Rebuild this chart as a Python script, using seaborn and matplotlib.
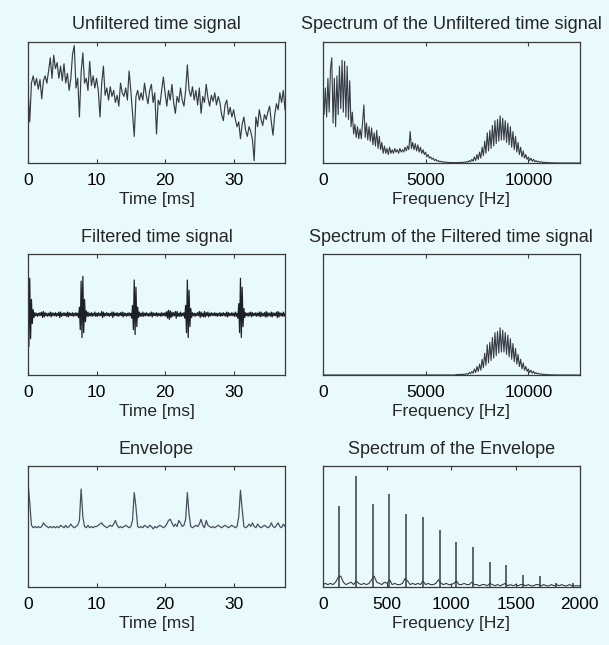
import numpy as np
import seaborn as sns
import matplotlib.pyplot as plt

# sample spacing of the values below
t_step = 0.25      # ms, unfiltered signal and envelope
t_fine = 0.125     # ms, filtered signal
f_step = 62.5      # Hz, spectra
ef_step = 20       # Hz, envelope spectrum floor

# unfiltered time signal (fraction of axis height), t = 0 .. 37.5 ms
unfilt = [0.62, 0.34, 0.66, 0.72, 0.64, 0.70, 0.61, 0.69, 0.53, 0.68,
          0.72, 0.66, 0.76, 0.87, 0.70, 0.89, 0.78, 0.83, 0.70, 0.80,
          0.68, 0.82, 0.66, 0.74, 0.60, 0.70, 0.90, 0.97, 0.62, 0.70,
          0.38, 0.75, 0.91, 0.66, 0.70, 0.60, 0.84, 0.64, 0.72, 0.62,
          0.70, 0.60, 0.38, 0.66, 0.80, 0.56, 0.62, 0.52, 0.63, 0.55,
          0.60, 0.50, 0.56, 0.47, 0.66, 0.58, 0.55, 0.62, 0.52, 0.76,
          0.60, 0.41, 0.22, 0.55, 0.60, 0.52, 0.58, 0.52, 0.66, 0.56,
          0.49, 0.60, 0.65, 0.50, 0.58, 0.24, 0.52, 0.48, 0.60, 0.71,
          0.58, 0.47, 0.60, 0.52, 0.65, 0.50, 0.41, 0.55, 0.50, 0.62,
          0.52, 0.47, 0.60, 0.81, 0.60, 0.55, 0.63, 0.52, 0.60, 0.48,
          0.62, 0.41, 0.55, 0.50, 0.65, 0.54, 0.47, 0.56, 0.51, 0.58,
          0.48, 0.55, 0.50, 0.40, 0.35, 0.48, 0.52, 0.40, 0.46, 0.38,
          0.44, 0.36, 0.30, 0.34, 0.20, 0.32, 0.38, 0.27, 0.22, 0.30,
          0.26, 0.19, 0.02, 0.38, 0.30, 0.44, 0.36, 0.31, 0.40, 0.36,
          0.42, 0.47, 0.34, 0.23, 0.40, 0.49, 0.44, 0.58, 0.50, 0.60,
          0.44]

# filtered time signal, t = 0 .. 37.5 ms, one row per ms
filt = [0.35, -0.53, 0.60, -0.40, 0.25, -0.15, 0.08, -0.05,
        0.03, -0.02, 0.02, -0.03, 0.02, -0.02, 0.03, -0.02,
        0.04, -0.05, 0.05, -0.04, 0.03, -0.02, 0.02, -0.03,
        0.02, -0.02, 0.04, -0.04, 0.03, -0.02, 0.02, -0.02,
        0.03, -0.03, 0.02, -0.02, 0.04, -0.05, 0.04, -0.03,
        0.02, -0.02, 0.03, -0.02, 0.02, -0.03, 0.04, -0.04,
        0.03, -0.02, 0.02, -0.02, 0.03, -0.03, 0.02, -0.02,
        0.03, -0.02, 0.02, -0.05, 0.12, -0.25, 0.55, -0.38,
        0.63, -0.30, 0.25, -0.12, 0.06, -0.03, 0.04, -0.03,
        0.02, -0.02, 0.03, -0.03, 0.02, -0.02, 0.04, -0.03,
        0.02, -0.03, 0.03, -0.02, 0.02, -0.02, 0.05, -0.05,
        0.04, -0.03, 0.02, -0.02, 0.03, -0.02, 0.02, -0.03,
        0.02, -0.02, 0.04, -0.05, 0.04, -0.02, 0.02, -0.02,
        0.03, -0.03, 0.02, -0.02, 0.03, -0.02, 0.04, -0.04,
        0.03, -0.02, 0.02, -0.03, 0.02, -0.02, 0.03, -0.02,
        0.02, -0.06, 0.15, -0.25, 0.57, -0.33, 0.45, -0.20,
        0.12, -0.05, 0.04, -0.03, 0.02, -0.03, 0.04, -0.03,
        0.02, -0.02, 0.03, -0.02, 0.02, -0.03, 0.02, -0.02,
        0.04, -0.04, 0.03, -0.02, 0.02, -0.02, 0.03, -0.03,
        0.02, -0.02, 0.02, -0.03, 0.03, -0.02, 0.02, -0.02,
        0.03, -0.03, 0.05, -0.06, 0.07, -0.08, 0.06, -0.05,
        0.04, -0.03, 0.03, -0.02, 0.05, -0.06, 0.05, -0.03,
        0.02, -0.03, 0.04, -0.03, 0.02, -0.02, 0.03, -0.06,
        0.15, -0.30, 0.57, -0.38, 0.40, -0.20, 0.10, -0.05,
        0.03, -0.02, 0.02, -0.03, 0.02, -0.02, 0.03, -0.02,
        0.05, -0.05, 0.04, -0.03, 0.02, -0.04, 0.05, -0.04,
        0.03, -0.02, 0.04, -0.04, 0.02, -0.02, 0.03, -0.02,
        0.02, -0.02, 0.03, -0.02, 0.02, -0.03, 0.02, -0.02,
        0.03, -0.03, 0.02, -0.02, 0.03, -0.02, 0.02, -0.03,
        0.04, -0.04, 0.03, -0.02, 0.02, -0.02, 0.03, -0.02,
        0.02, -0.03, 0.04, -0.03, 0.02, -0.06, 0.18, -0.30,
        0.60, -0.38, 0.45, -0.20, 0.10, -0.05, 0.03, -0.02,
        0.02, -0.03, 0.03, -0.02, 0.04, -0.04, 0.03, -0.02,
        0.02, -0.02, 0.03, -0.03, 0.02, -0.02, 0.04, -0.04,
        0.04, -0.03, 0.02, -0.02, 0.03, -0.04, 0.05, -0.04,
        0.03, -0.02, 0.02, -0.03, 0.04, -0.04, 0.03, -0.02,
        0.02, -0.02, 0.04, -0.05, 0.05, -0.04, 0.03, -0.02,
        0.02, -0.03, 0.04, -0.03, 0.02]

# envelope of the filtered signal, t = 0 .. 37.5 ms
envelope = [0.86, 0.70, 0.51, 0.49, 0.50, 0.49, 0.50, 0.49, 0.50, 0.53,
            0.51, 0.50, 0.49, 0.50, 0.49, 0.50, 0.49, 0.50, 0.49, 0.51,
            0.50, 0.49, 0.51, 0.49, 0.50, 0.52, 0.50, 0.49, 0.50, 0.51,
            0.55, 0.81, 0.58, 0.50, 0.49, 0.51, 0.49, 0.50, 0.49, 0.50,
            0.50, 0.51, 0.52, 0.53, 0.51, 0.50, 0.49, 0.50, 0.51, 0.50,
            0.52, 0.55, 0.51, 0.49, 0.50, 0.49, 0.50, 0.51, 0.50, 0.49,
            0.50, 0.55, 0.78, 0.66, 0.50, 0.49, 0.50, 0.49, 0.51, 0.50,
            0.49, 0.51, 0.50, 0.48, 0.50, 0.49, 0.50, 0.51, 0.50, 0.49,
            0.50, 0.52, 0.55, 0.56, 0.53, 0.50, 0.52, 0.50, 0.55, 0.53,
            0.50, 0.51, 0.56, 0.78, 0.60, 0.50, 0.49, 0.50, 0.51, 0.50,
            0.52, 0.56, 0.51, 0.49, 0.55, 0.51, 0.50, 0.49, 0.50, 0.49,
            0.50, 0.51, 0.50, 0.49, 0.50, 0.51, 0.50, 0.49, 0.50, 0.51,
            0.50, 0.49, 0.50, 0.58, 0.80, 0.64, 0.50, 0.49, 0.50, 0.52,
            0.50, 0.53, 0.50, 0.49, 0.52, 0.50, 0.49, 0.50, 0.51, 0.50,
            0.49, 0.50, 0.53, 0.50, 0.49, 0.51, 0.53, 0.50, 0.49, 0.52,
            0.50]

# spectrum of the unfiltered signal, 0 .. 6437.5 Hz
spec_low = [0.52, 0.40, 0.62, 0.38, 0.70, 0.42, 0.78, 0.87, 0.33, 0.70,
            0.30, 0.72, 0.40, 0.80, 0.45, 0.85, 0.42, 0.84, 0.38, 0.80,
            0.36, 0.68, 0.30, 0.42, 0.24, 0.32, 0.21, 0.30, 0.20, 0.28,
            0.20, 0.34, 0.48, 0.21, 0.33, 0.19, 0.30, 0.18, 0.29, 0.15,
            0.25, 0.14, 0.27, 0.12, 0.22, 0.11, 0.17, 0.08, 0.14, 0.08,
            0.12, 0.07, 0.13, 0.08, 0.11, 0.08, 0.12, 0.09, 0.11, 0.08,
            0.12, 0.09, 0.11, 0.09, 0.13, 0.10, 0.14, 0.11, 0.26, 0.12,
            0.17, 0.11, 0.16, 0.10, 0.15, 0.09, 0.13, 0.08, 0.11, 0.07,
            0.09, 0.05, 0.07, 0.04, 0.05, 0.03, 0.04, 0.02, 0.03, 0.015,
            0.02, 0.01, 0.014, 0.008, 0.01, 0.006, 0.008, 0.004, 0.005, 0.003,
            0.004, 0.003, 0.004, 0.003]
# bearing resonance band, 6500 .. 12500 Hz (same in both spectra)
spec_band = [0.004, 0.003, 0.005, 0.004, 0.006, 0.004, 0.008, 0.005, 0.012, 0.006,
             0.02, 0.01, 0.03, 0.015, 0.05, 0.02, 0.07, 0.03, 0.09, 0.04,
             0.13, 0.06, 0.18, 0.08, 0.25, 0.10, 0.27, 0.12, 0.31, 0.14,
             0.35, 0.16, 0.36, 0.18, 0.39, 0.19, 0.37, 0.19, 0.35, 0.17,
             0.33, 0.15, 0.30, 0.13, 0.26, 0.11, 0.22, 0.09, 0.17, 0.07,
             0.13, 0.05, 0.10, 0.04, 0.07, 0.03, 0.05, 0.02, 0.04, 0.015,
             0.03, 0.01, 0.02, 0.008, 0.014, 0.006, 0.01, 0.004, 0.007, 0.003,
             0.005, 0.002, 0.003, 0.001, 0.002, 0.001, 0.001, 0.001, 0.0, 0.001,
             0.0, 0.0, 0.0, 0.0, 0.0, 0.0, 0.0, 0.0, 0.0, 0.0,
             0.0, 0.0, 0.0, 0.0, 0.0, 0.0, 0.0]
spec_filt_low = [0.0] * len(spec_low)

# envelope spectrum: noise floor (0 .. 2000 Hz) and harmonic peaks
env_floor = [0.02, 0.03, 0.02, 0.03, 0.02, 0.04, 0.08, 0.09, 0.04, 0.02,
             0.03, 0.04, 0.02, 0.05, 0.03, 0.02, 0.03, 0.02, 0.03, 0.06,
             0.09, 0.04, 0.03, 0.02, 0.04, 0.03, 0.06, 0.02, 0.03, 0.02,
             0.02, 0.03, 0.07, 0.05, 0.02, 0.03, 0.02, 0.03, 0.02, 0.05,
             0.02, 0.03, 0.02, 0.02, 0.03, 0.06, 0.03, 0.02, 0.03, 0.02,
             0.02, 0.03, 0.05, 0.02, 0.02, 0.03, 0.02, 0.02, 0.04, 0.02,
             0.02, 0.01, 0.02, 0.02, 0.01, 0.03, 0.02, 0.01, 0.02, 0.01,
             0.02, 0.03, 0.01, 0.02, 0.01, 0.02, 0.01, 0.02, 0.02, 0.01,
             0.02, 0.01, 0.01, 0.02, 0.02, 0.01, 0.02, 0.01, 0.01, 0.02,
             0.01, 0.02, 0.01, 0.02, 0.01, 0.01, 0.02, 0.01, 0.01, 0.01,
             0.01]
env_peak_freq = [130, 260, 390, 519, 649, 779, 909, 1039, 1169, 1299,
                 1429, 1558, 1688, 1818, 1948]
env_peak_amp = [0.67, 0.92, 0.69, 0.77, 0.60, 0.58, 0.47, 0.37, 0.33, 0.21,
                0.18, 0.10, 0.09, 0.03, 0.03]

sns.set_style('ticks')
plt.rcParams['font.family'] = ['Liberation Sans', 'DejaVu Sans']
plt.rcParams['font.size'] = 12.5

bg = '#E8FAFC'
line_col = '#383b46'
edge_col = '#3a3a3a'

t = np.arange(len(unfilt)) * t_step
tf = np.arange(len(filt)) * t_fine
f = np.arange(len(spec_low) + len(spec_band)) * f_step
ef = np.arange(len(env_floor)) * ef_step

fig = plt.figure(figsize=(6.09, 6.45), dpi=100, facecolor=bg)
lefts = [0.046, 0.530]
bottoms = [0.7473, 0.4186, 0.0899]
w, h = 0.422, 0.1876


def make_ax(row, col, title, xlabel, xlim, ylim, xticks):
    ax = fig.add_axes([lefts[col], bottoms[row], w, h])
    ax.set_facecolor(bg)
    ax.set_xlim(*xlim)
    ax.set_ylim(*ylim)
    ax.set_xticks(xticks)
    ax.set_yticks([])
    ax.set_title(title, fontsize=13, pad=9)
    ax.set_xlabel(xlabel, fontsize=12.5, labelpad=3)
    ax.tick_params(axis='x', direction='in', top=True, length=3, width=0.8,
                   pad=7, labelsize=12.5, colors=edge_col, labelcolor='black')
    for s in ax.spines.values():
        s.set_visible(True)
        s.set_color(edge_col)
        s.set_linewidth(0.9)
    return ax


ax = make_ax(0, 0, 'Unfiltered time signal', 'Time [ms]', (0, 37.5), (0, 1), [0, 10, 20, 30])
sns.lineplot(x=t, y=unfilt, ax=ax, color=line_col, lw=0.85)
ax.set_ylabel('')

ax = make_ax(0, 1, 'Spectrum of the Unfiltered time signal', 'Frequency [Hz]', (0, 12500), (0, 1), [0, 5000, 10000])
sns.lineplot(x=f, y=spec_low + spec_band, ax=ax, color=line_col, lw=0.8)
ax.set_ylabel('')

ax = make_ax(1, 0, 'Filtered time signal', 'Time [ms]', (0, 37.5), (-1, 1), [0, 10, 20, 30])
sns.lineplot(x=tf, y=filt, ax=ax, color='#1e2028', lw=0.9)
ax.set_ylabel('')

ax = make_ax(1, 1, 'Spectrum of the Filtered time signal', 'Frequency [Hz]', (0, 12500), (0, 1), [0, 5000, 10000])
sns.lineplot(x=f, y=spec_filt_low + spec_band, ax=ax, color=line_col, lw=0.8)
ax.set_ylabel('')

ax = make_ax(2, 0, 'Envelope', 'Time [ms]', (0, 37.5), (0, 1), [0, 10, 20, 30])
sns.lineplot(x=t, y=envelope, ax=ax, color='#4a5060', lw=0.9)
ax.set_ylabel('')

ax = make_ax(2, 1, 'Spectrum of the Envelope', 'Frequency [Hz]', (0, 2000), (0, 1), [0, 500, 1000, 1500, 2000])
sns.lineplot(x=ef, y=env_floor, ax=ax, color=line_col, lw=0.8)
ax.vlines(env_peak_freq, 0, env_peak_amp, color=line_col, lw=1.1)
ax.set_ylabel('')

fig.savefig('out.png', dpi=100, facecolor=bg)
